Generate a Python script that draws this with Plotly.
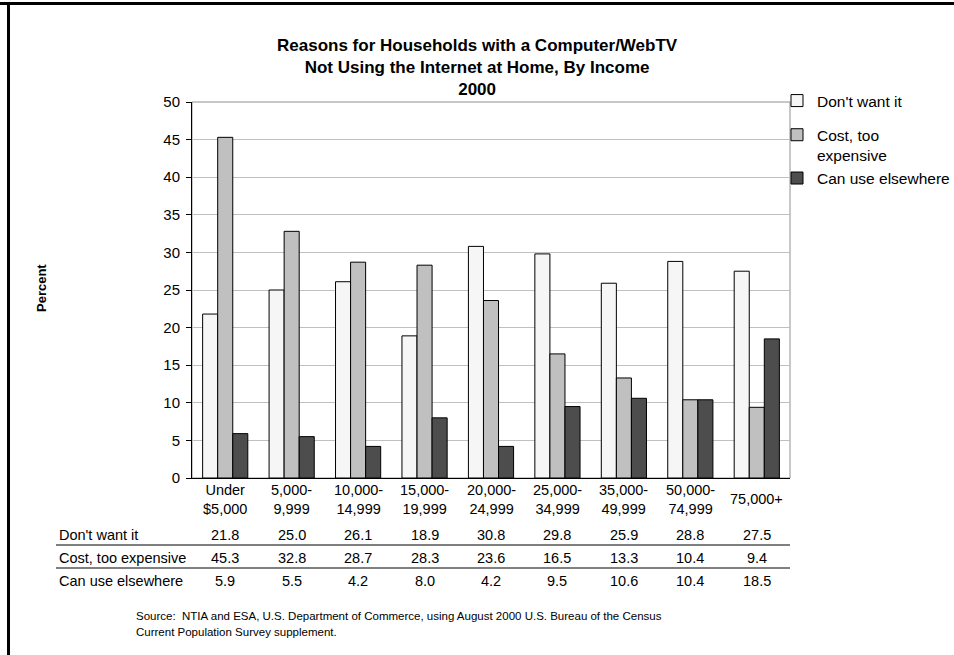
import plotly.graph_objects as go

categories = ["Under $5,000", "5,000-9,999", "10,000-14,999", "15,000-19,999",
              "20,000-24,999", "25,000-34,999", "35,000-49,999", "50,000-74,999", "75,000+"]
tick_labels = ["Under<br>$5,000", "5,000-<br>9,999", "10,000-<br>14,999", "15,000-<br>19,999",
               "20,000-<br>24,999", "25,000-<br>34,999", "35,000-<br>49,999", "50,000-<br>74,999", "75,000+"]
dont_want = [21.8, 25.0, 26.1, 18.9, 30.8, 29.8, 25.9, 28.8, 27.5]
cost_expensive = [45.3, 32.8, 28.7, 28.3, 23.6, 16.5, 13.3, 10.4, 9.4]
use_elsewhere = [5.9, 5.5, 4.2, 8.0, 4.2, 9.5, 10.6, 10.4, 18.5]
series_names = ["Don't want it", "Cost, too expensive", "Can use elsewhere"]
legend_labels = ["Don't want it", "Cost, too<br>expensive", "Can use elsewhere"]
series_values = [dont_want, cost_expensive, use_elsewhere]
colors = ["#f6f6f6", "#c0c0c0", "#4d4d4d"]
legend_groups = ["a", "b", "b"]

W, H = 954, 655
L, R, T, B = 192, 790, 102, 478
PW, PH = R - L, B - T
FONT = "Liberation Sans, Arial, sans-serif"


def px_x(px):
    return (px - L) / PW


def px_y(py):
    return (B - py) / PH


fig = go.Figure()
for name, lab, vals, col, grp in zip(series_names, legend_labels, series_values, colors, legend_groups):
    fig.add_trace(go.Bar(
        x=categories, y=vals, name=lab, legendgroup=grp,
        marker=dict(color=col, line=dict(color="#000000", width=1)),
        hoverinfo="x+y",
    ))

annotations = []
# Title
annotations.append(dict(
    text="<b>Reasons for Households with a Computer/WebTV<br>Not Using the Internet at Home, By Income<br>2000</b>",
    xref="paper", yref="paper", x=px_x(477), y=px_y(68), xanchor="center", yanchor="middle",
    showarrow=False, font=dict(size=17, color="#000000", family=FONT), align="center"))
# Y title
annotations.append(dict(
    text="<b>Percent</b>", xref="paper", yref="paper", x=px_x(41), y=px_y(288),
    xanchor="center", yanchor="middle", textangle=-90, showarrow=False,
    font=dict(size=13, color="#000000", family=FONT)))
# Category labels
for cat, lab in zip(categories, tick_labels):
    annotations.append(dict(
        text=lab, xref="x", yref="paper", x=cat, y=px_y(499), xanchor="center", yanchor="middle",
        showarrow=False, font=dict(size=14.5, color="#000000", family=FONT), align="center"))
# Data table
row_centers = [535, 558, 581]
for rc, name, vals in zip(row_centers, series_names, series_values):
    annotations.append(dict(
        text=name, xref="paper", yref="paper", x=px_x(57), y=px_y(rc), xanchor="left", yanchor="middle",
        showarrow=False, font=dict(size=14.5, color="#000000", family=FONT)))
    for cat, v in zip(categories, vals):
        annotations.append(dict(
            text=f"{v:.1f}", xref="x", yref="paper", x=cat, y=px_y(rc), xanchor="center", yanchor="middle",
            showarrow=False, font=dict(size=14.5, color="#000000", family=FONT)))
# Source
source_lines = ["Source:  NTIA and ESA, U.S. Department of Commerce, using August 2000 U.S. Bureau of the Census",
                "Current Population Survey supplement."]
for i, s in enumerate(source_lines):
    annotations.append(dict(
        text=s, xref="paper", yref="paper", x=px_x(134), y=px_y(616 + 16 * i), xanchor="left", yanchor="middle",
        showarrow=False, font=dict(size=11.5, color="#000000", family=FONT)))

shapes = [
    # plot area border
    dict(type="rect", xref="paper", yref="paper", x0=0, x1=1, y0=0, y1=1,
         line=dict(color="#909090", width=1), layer="below"),
    # table separators
    dict(type="line", xref="paper", yref="paper", x0=px_x(56), x1=1, y0=px_y(545), y1=px_y(545),
         line=dict(color="#000000", width=1)),
    dict(type="line", xref="paper", yref="paper", x0=px_x(56), x1=1, y0=px_y(568), y1=px_y(568),
         line=dict(color="#000000", width=1)),
    # outer frame
    dict(type="line", xref="paper", yref="paper", x0=px_x(0), x1=px_x(954), y0=px_y(3.5), y1=px_y(3.5),
         line=dict(color="#000000", width=3)),
    dict(type="line", xref="paper", yref="paper", x0=px_x(8.5), x1=px_x(8.5), y0=px_y(2), y1=px_y(655),
         line=dict(color="#000000", width=3)),
]

fig.update_layout(
    width=W, height=H, autosize=False,
    margin=dict(l=L, r=W - R, t=T, b=H - B, pad=0, autoexpand=False),
    paper_bgcolor="#ffffff", plot_bgcolor="#ffffff",
    font=dict(family=FONT, color="#000000", size=14.5),
    barmode="group", bargap=0.32, bargroupgap=0,
    showlegend=True,
    legend=dict(x=px_x(777), y=px_y(84), xanchor="left", yanchor="top",
                font=dict(size=15.5, family=FONT, color="#000000"),
                valign="top", tracegroupgap=11, traceorder="grouped",
                bgcolor="rgba(0,0,0,0)", itemwidth=30),
    xaxis=dict(type="category", showticklabels=False, showline=True, linecolor="#000000", linewidth=1,
               ticks="", showgrid=False, zeroline=False, fixedrange=True),
    yaxis=dict(range=[0, 50], dtick=5, tick0=0, showline=True, linecolor="#000000", linewidth=1,
               ticks="outside", ticklen=5, tickcolor="#000000", tickwidth=1, ticklabelstandoff=3,
               showgrid=True, gridcolor="#c0c0c0", gridwidth=1, zeroline=False,
               tickfont=dict(size=15, family=FONT, color="#000000"), fixedrange=True),
    annotations=annotations,
    shapes=shapes,
)

fig.write_html("out.html", config={"displayModeBar": False},
               post_script="document.body.style.margin='0';")
